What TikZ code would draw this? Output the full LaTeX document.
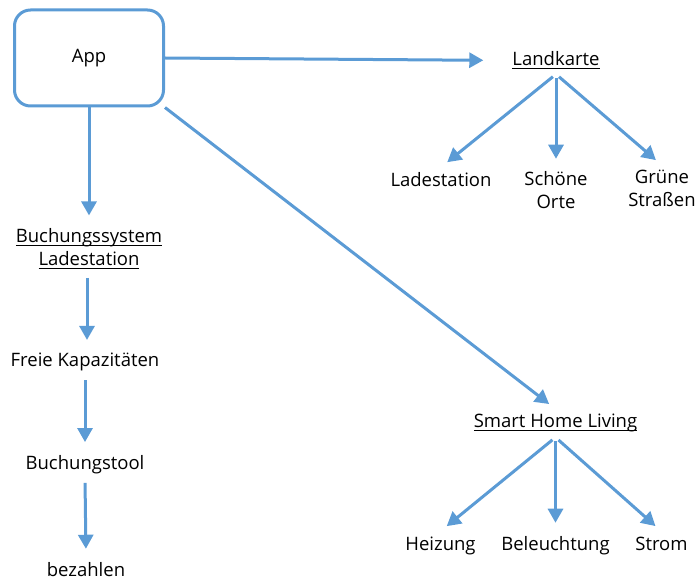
\documentclass[tikz,border=0pt]{standalone}
\usepackage{fontspec}
\setmainfont{Open Sans}
\usepackage{tikz}
\usetikzlibrary{arrows.meta}
\definecolor{flowblue}{HTML}{5B9BD5}
\newcommand{\ulabel}[1]{\setbox0\hbox{#1}\rlap{\rule[-3pt]{\wd0}{1pt}}\box0}

\begin{document}
\begin{tikzpicture}[x=1pt, y=-1pt, every node/.style={font=\fontsize{18.5}{23}\selectfont},
    appbox/.style={rectangle, rounded corners=16pt, draw=flowblue, line width=3pt, minimum width=149pt, minimum height=96pt},
    item/.style={anchor=base, inner sep=5pt, align=center},
    flow/.style={-{Triangle[length=14pt,width=15pt]}, draw=flowblue, line width=3pt, shorten >=8pt, shorten <=4pt}]
    \useasboundingbox (0,0) rectangle (696,580);
    \node[appbox] (app) at (89,58) {App};
    % Landkarte branch (base = last line)
    \node[item] (karte) at (556,66) {\ulabel{Landkarte}};
    \node[item] (lade) at (441,186.5) {Ladestation};
    \node[item] (orte) at (556,209) {Schöne\\Orte};
    \node[item] (strassen) at (662,207) {Grüne\\Straßen};
    % Buchung branch
    \node[item] (buchung) at (89,265.7) {\ulabel{Buchungssystem}\\\ulabel{Ladestation}};
    \node[item] (frei) at (85,366.7) {Freie Kapazitäten};
    \node[item] (tool) at (85,469.3) {Buchungstool};
    \node[item] (zahlen) at (86,576) {bezahlen};
    % Smart Home branch
    \node[item] (home) at (555.5,427.7) {\ulabel{Smart Home Living}};
    \node[item] (heizung) at (440.5,550) {Heizung};
    \node[item] (licht) at (555.5,550) {Beleuchtung};
    \node[item] (strom) at (661.5,550) {Strom};

    \draw[flow, shorten <=0pt, shorten >=24pt] (app.east) -- (karte.west);
    \draw[flow, shorten <=0pt] (app.south) -- (buchung.north);
    \draw[flow, shorten <=0pt] (app.south east) -- (home.north);
    \draw[flow] (karte.south) -- (lade.north);
    \draw[flow] (karte.south) -- (orte.north);
    \draw[flow] (karte.south) -- (strassen.north);
    \draw[flow] ([xshift=-2pt]buchung.south) -- ([xshift=2pt]frei.north);
    \draw[flow] (frei.south) -- (tool.north);
    \draw[flow] (tool.south) -- (zahlen.north);
    \draw[flow] (home.south) -- (heizung.north);
    \draw[flow] (home.south) -- (licht.north);
    \draw[flow] (home.south) -- (strom.north);
\end{tikzpicture}
\end{document}
